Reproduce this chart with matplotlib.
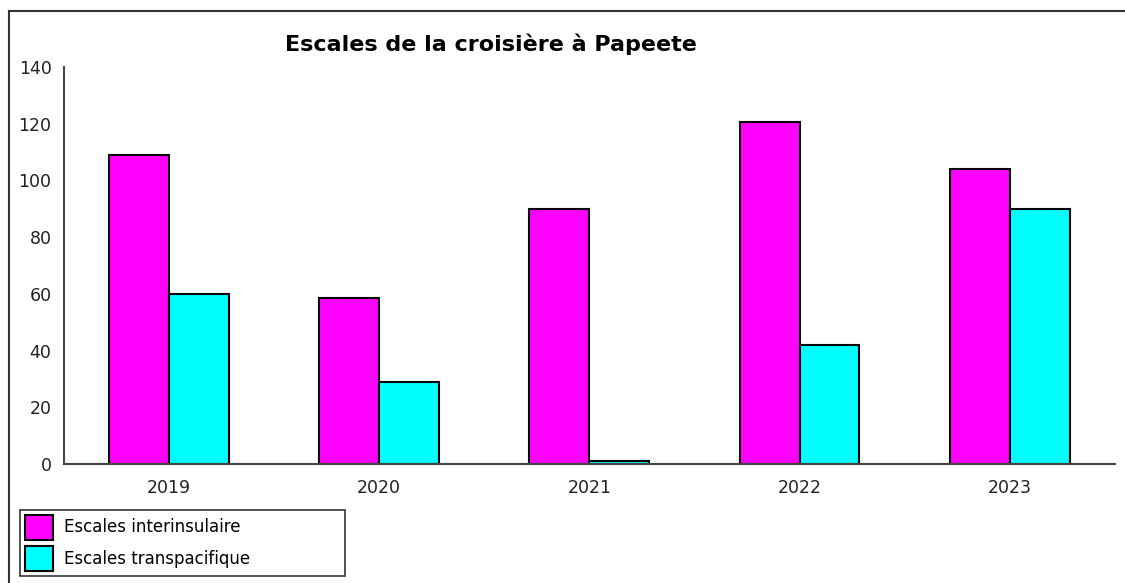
import matplotlib
matplotlib.use("Agg")
import matplotlib.pyplot as plt
from matplotlib.lines import Line2D
import numpy as np

# Données
annees = ["2019", "2020", "2021", "2022", "2023"]
interinsulaire = [109, 58.5, 90, 120.5, 104]
transpacifique = [60, 29, 1, 42, 90]

fig = plt.figure(figsize=(11.25, 5.83), dpi=100)
ax = fig.add_axes([0.0569, 0.2041, 0.934, 0.681])

x = np.arange(len(annees))
larg = 0.285

ax.bar(x - larg / 2, interinsulaire, larg, color="#FF00FF",
       edgecolor="black", linewidth=1.5, label="Escales interinsulaire")
ax.bar(x + larg / 2, transpacifique, larg, color="#00FFFF",
       edgecolor="black", linewidth=1.5, label="Escales transpacifique")

ax.set_xlim(-0.5, 4.5)
ax.set_ylim(0, 140)
ax.set_yticks(range(0, 141, 20))
ax.set_xticks(x)
ax.set_xticklabels(annees)
ax.tick_params(axis="both", length=0, labelsize=12.5, colors="#222222")
ax.tick_params(axis="y", pad=9)
ax.tick_params(axis="x", pad=11)

for s in ["top", "right"]:
    ax.spines[s].set_visible(False)
for s in ["left", "bottom"]:
    ax.spines[s].set_color("#444444")
    ax.spines[s].set_linewidth(1.5)

# Titre
fig.text(0.436, 1 - 44 / 583, "Escales de la croisière à Papeete",
         ha="center", va="center", fontsize=16, fontweight="bold")

# Cadre (haut et gauche)
fig.add_artist(Line2D([9 / 1125, 1], [1 - 11 / 583, 1 - 11 / 583],
                      transform=fig.transFigure, color="#333333", lw=1.5))
fig.add_artist(Line2D([9 / 1125, 9 / 1125], [0, 1 - 11 / 583],
                      transform=fig.transFigure, color="#333333", lw=1.5))

# Légende
leg = fig.legend(loc="lower left",
                 bbox_to_anchor=(20 / 1125, 1 - 576 / 583, 325 / 1125, 68 / 583),
                 mode="expand", fontsize=12, frameon=True, fancybox=False,
                 edgecolor="black", handlelength=1.7, handleheight=1.95,
                 handletextpad=0.65, labelspacing=0.36, borderpad=0.3,
                 borderaxespad=0)
leg.get_frame().set_linewidth(1.2)

fig.savefig("out.png", dpi=100)
